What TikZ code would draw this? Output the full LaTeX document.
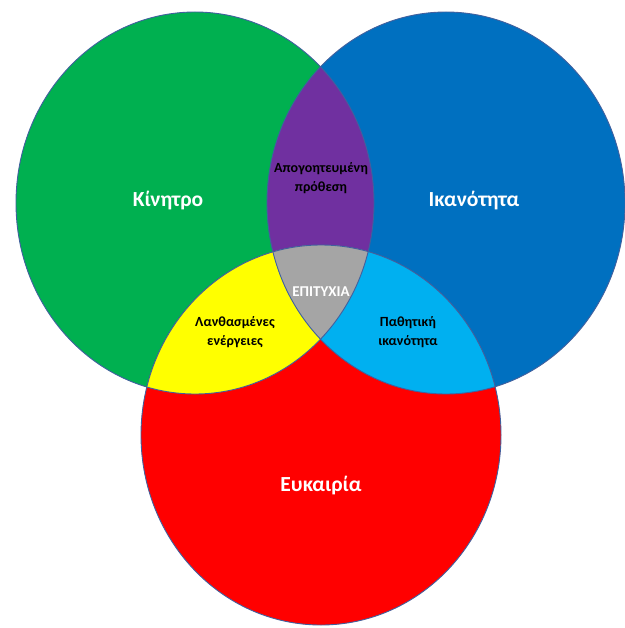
\documentclass[tikz,border=0pt]{standalone}
\usepackage{fontspec}
\setmainfont{Carlito}
\definecolor{vgreen}{HTML}{00B050}
\definecolor{vblue}{HTML}{0070C0}
\definecolor{vred}{HTML}{FF0000}
\definecolor{vpurple}{HTML}{7030A0}
\definecolor{vyellow}{HTML}{FFFF00}
\definecolor{vcyan}{HTML}{00B0F0}
\definecolor{vgrey}{HTML}{A5A5A5}
\definecolor{vline}{HTML}{41609E}
\def\vennG{(195,203) ellipse [x radius=179pt, y radius=191pt]}
\def\vennB{(446,203) ellipse [x radius=179pt, y radius=191pt]}
\def\vennR{(321,435) ellipse [x radius=180pt, y radius=190pt]}
\tikzset{
  biglabel/.style={text=white, font=\fontsize{21.5}{25}\selectfont\bfseries},
  smalllabel/.style={text=black, align=center, font=\fontsize{14}{18.5}\selectfont\bfseries},
  outl/.style={draw=vline, line width=0.9pt}
}
\begin{document}
\begin{tikzpicture}[x=1pt,y=-1pt]
\useasboundingbox (0,0) rectangle (624,628);
\fill[vgreen] \vennG;
\fill[vblue] \vennB;
\fill[vred] \vennR;
\begin{scope}\clip \vennG; \fill[vpurple] \vennB; \end{scope}
\begin{scope}\clip \vennG; \fill[vyellow] \vennR; \end{scope}
\begin{scope}\clip \vennB; \fill[vcyan] \vennR; \end{scope}
\begin{scope}\clip \vennG; \clip \vennB; \fill[vgrey] \vennR; \end{scope}
\draw[outl] \vennG;
\draw[outl] \vennB;
\draw[outl] \vennR;
\node[biglabel] (kin) at (168,201) {Κίνητρο};
\node[biglabel] (ikan) at (474,201) {Ικανότητα};
\node[biglabel] (euk) at (321,486) {Ευκαιρία};
\node[smalllabel] (apog) at (321,178) {Απογοητευμένη\\πρόθεση};
\node[smalllabel] (lanth) at (235,332) {Λανθασμένες\\ενέργειες};
\node[smalllabel] (path) at (408,332) {Παθητική\\ικανότητα};
\node[text=white, font=\fontsize{15}{18}\selectfont\bfseries] (epit) at (321,292) {ΕΠΙΤΥΧΙΑ};
\end{tikzpicture}
\end{document}
